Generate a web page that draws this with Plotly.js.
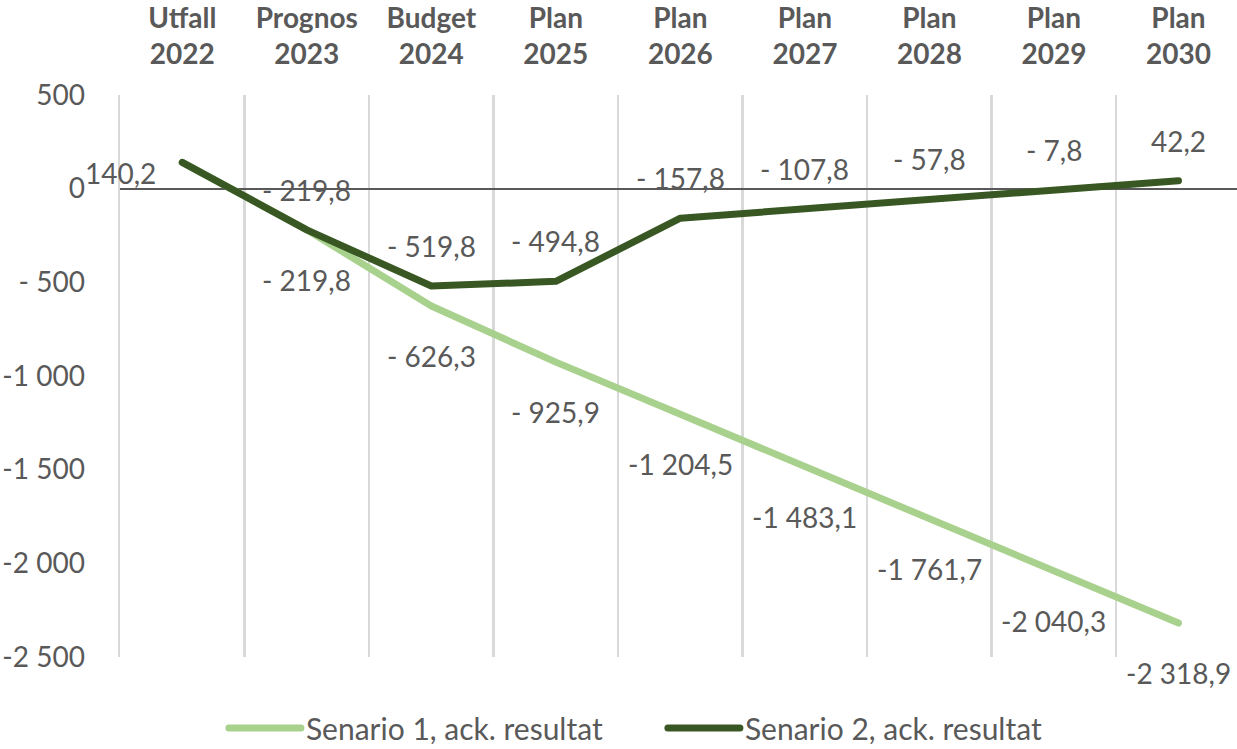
<!DOCTYPE html>
<html>
<head>
<meta charset="utf-8">
<script src="https://cdn.plot.ly/plotly-3.0.1.min.js"></script>
<style>
html,body{margin:0;padding:0;background:#fff;}
#chart{width:1237px;height:749px;}
.scatterlayer .js-line, .legend .js-line{stroke-linecap:round;stroke-linejoin:round;}
</style>
</head>
<body>
<div id="chart"></div>
<script>
const periodTypes = ["Utfall", "Prognos", "Budget", "Plan", "Plan", "Plan", "Plan", "Plan", "Plan"];
const years = ["2022", "2023", "2024", "2025", "2026", "2027", "2028", "2029", "2030"];
const senario1 = [140.2, -219.8, -626.3, -925.9, -1204.5, -1483.1, -1761.7, -2040.3, -2318.9];
const senario2 = [140.2, -219.8, -519.8, -494.8, -157.8, -107.8, -57.8, -7.8, 42.2];
const seriesNames = ["Senario 1, ack. resultat", "Senario 2, ack. resultat"];
const yTickValues = [500, 0, -500, -1000, -1500, -2000, -2500];

const categories = periodTypes.map((p, i) => p + "<br>" + years[i]);

function fmt(v, dec) {
  const a = Math.abs(v).toFixed(dec);
  let [ip, fp] = a.split(".");
  ip = ip.replace(/\B(?=(\d{3})+(?!\d))/g, " ");
  let s = fp !== undefined ? ip + "," + fp : ip;
  if (v < 0) s = (Math.abs(v) < 1000 ? "- " : "-") + s;
  return s;
}

const FONT = "Lato, 'Open Sans', sans-serif";
const GREY = "#595959";
const LIGHT = "#a9d18e";
const DARK = "#385723";
const GRID = "#d9d9d9";

const traces = [
  { x: categories, y: senario1, name: seriesNames[0], type: "scatter", mode: "lines",
    line: { color: LIGHT, width: 7 }, hoverinfo: "skip" },
  { x: categories, y: senario2, name: seriesNames[1], type: "scatter", mode: "lines",
    line: { color: DARK, width: 7 }, hoverinfo: "skip" }
];

const annFont = { family: FONT, size: 28, color: GREY };
const annotations = [];
senario1.forEach((v, i) => {
  if (i === 0) {
    annotations.push({ x: categories[i], y: v, xref: "x", yref: "y", text: fmt(v, 1),
      showarrow: false, xshift: -62, yshift: -11, font: annFont });
  } else {
    annotations.push({ x: categories[i], y: v, xref: "x", yref: "y", text: fmt(v, 1),
      showarrow: false, yshift: -50, font: annFont });
  }
});
senario2.forEach((v, i) => {
  if (i === 0) return;
  annotations.push({ x: categories[i], y: v, xref: "x", yref: "y", text: fmt(v, 1),
    showarrow: false, yshift: 40, font: annFont });
});

const layout = {
  width: 1237, height: 749,
  margin: { l: 120, r: 0, t: 95, b: 92 },
  paper_bgcolor: "#ffffff", plot_bgcolor: "#ffffff",
  showlegend: true,
  xaxis: {
    type: "category", side: "top", tickson: "boundaries",
    range: [-0.5, 8.47],
    showgrid: true, gridcolor: GRID, gridwidth: 2.5,
    ticks: "", showline: false, zeroline: false,
    tickfont: { family: FONT, size: 28, color: GREY, weight: "bold" },
    ticklabelstandoff: 24
  },
  yaxis: {
    range: [-2500, 500],
    tickvals: yTickValues, ticktext: yTickValues.map(v => fmt(v, 0)),
    showgrid: false, zeroline: true, zerolinecolor: GREY, zerolinewidth: 2,
    ticks: "", showline: true, linecolor: GRID, linewidth: 2.5,
    tickfont: { family: FONT, size: 28, color: GREY },
    ticklabelstandoff: 27
  },
  legend: {
    orientation: "h", xref: "container", yref: "container",
    x: 0.181, xanchor: "left", y: 0.028, yanchor: "middle",
    font: { family: FONT, size: 30, color: GREY },
    itemwidth: 72, entrywidth: 352
  },
  annotations: annotations
};

Plotly.newPlot("chart", traces, layout, { staticPlot: true, displayModeBar: false });
</script>
</body>
</html>
